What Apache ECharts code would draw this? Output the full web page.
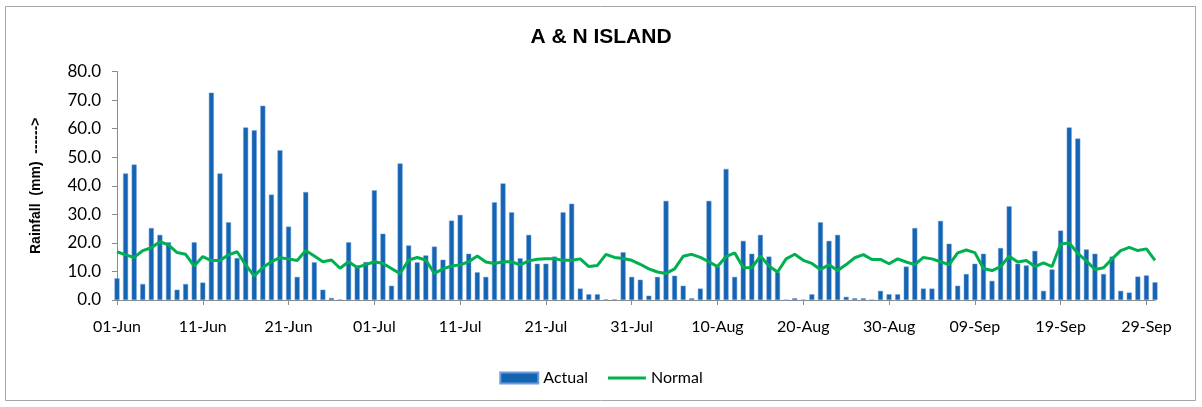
<!DOCTYPE html>
<html>
<head>
<meta charset="utf-8">
<script src="https://cdn.jsdelivr.net/npm/echarts@6/dist/echarts.min.js"></script>
<style>
  html, body { margin: 0; padding: 0; background: #fff; }
  #chart { width: 1202px; height: 407px; }
</style>
</head>
<body>
<div id="chart"></div>
<script>
// months covered, with day counts (01-Jun .. 30-Sep)
const months = ['Jun', 'Jul', 'Aug', 'Sep']
const monthDays = [30, 31, 31, 30]

// daily actual rainfall (mm)
const actual = [
  7.6, 44.3, 47.4, 5.6, 25.2, 22.8, 20.2, 3.6, 5.6, 20.2,
  6.1, 72.6, 44.3, 27.2, 14.7, 60.4, 59.4, 68.0, 36.9, 52.4,
  25.7, 8.1, 37.8, 13.2, 3.6, 0.7, 0.1, 20.2, 12.1, 13.3,
  38.4, 23.2, 5.0, 47.8, 19.1, 13.2, 15.6, 18.7, 14.1, 27.8,
  29.8, 16.2, 9.7, 8.1, 34.2, 40.8, 30.7, 14.6, 22.8, 12.7,
  12.7, 15.2, 30.7, 33.7, 4.0, 2.0, 2.0, 0.2, 0.2, 16.7,
  8.1, 7.1, 1.5, 8.1, 34.7, 8.5, 5.0, 0.6, 4.0, 34.7,
  11.7, 45.9, 8.1, 20.7, 16.2, 22.8, 15.2, 9.7, 0, 0.6,
  0, 2.0, 27.2, 20.7, 22.8, 1.1, 0.6, 0.6, 0, 3.2,
  2.0, 2.0, 11.7, 25.2, 4.0, 4.0, 27.7, 19.7, 5.0, 9.1,
  12.7, 16.2, 6.7, 18.2, 32.8, 12.7, 12.1, 17.2, 3.2, 10.7,
  24.3, 60.4, 56.5, 17.7, 16.2, 9.1, 15.2, 3.2, 2.6, 8.2,
  8.6, 6.2
]

// daily normal rainfall (mm)
const normal = [
  16.9, 15.8, 14.9, 17.3, 18.3, 20.4, 19.3, 16.6, 16.0, 11.9,
  15.2, 13.8, 13.8, 15.8, 16.9, 12.3, 8.4, 11.4, 13.4, 14.8,
  14.4, 13.8, 17.3, 15.4, 13.4, 14.0, 11.1, 13.4, 11.4, 12.4,
  13.4, 12.8, 11.0, 9.3, 14.0, 14.9, 14.0, 9.3, 10.9, 11.9,
  12.3, 13.4, 15.4, 13.3, 12.8, 13.4, 13.4, 12.3, 13.7, 14.3,
  14.4, 14.4, 13.9, 13.9, 14.4, 11.7, 12.1, 16.0, 14.9, 14.5,
  13.9, 12.5, 10.9, 9.8, 9.3, 10.9, 15.3, 16.0, 14.9, 13.4,
  11.7, 15.2, 16.5, 11.4, 11.3, 15.4, 11.9, 9.8, 14.4, 16.0,
  13.9, 12.8, 10.7, 12.3, 10.3, 12.4, 14.8, 15.9, 14.2, 14.2,
  12.7, 14.4, 13.3, 12.4, 14.9, 14.4, 13.4, 12.4, 16.5, 17.5,
  16.6, 11.0, 10.3, 11.7, 15.3, 13.3, 13.8, 11.7, 13.0, 11.7,
  19.6, 20.0, 16.3, 13.7, 10.7, 11.3, 14.4, 17.3, 18.4, 17.3,
  17.9, 13.9
]

const dates = []
months.forEach((m, k) => {
  for (let d = 1; d <= monthDays[k]; d++) dates.push(String(d).padStart(2, '0') + '-' + m)
})

const chart = echarts.init(document.getElementById('chart'))
const tickFont = 'Lato, "Open Sans", sans-serif'
const boldFont = '"Liberation Sans", Arial, sans-serif'

chart.setOption({
  animation: false,
  graphic: [{
    type: 'rect',
    shape: {x: 5.5, y: 6.5, width: 1190, height: 394},
    style: {fill: 'none', stroke: '#a6a6a6', lineWidth: 1},
    silent: true
  }],
  title: {
    text: 'A & N ISLAND',
    left: 'center',
    top: 22,
    textStyle: {fontFamily: boldFont, fontSize: 21, fontWeight: 'bold', color: '#000'}
  },
  legend: {
    bottom: 16,
    left: 'center',
    itemGap: 20,
    textStyle: {fontFamily: tickFont, fontSize: 16, color: '#000'},
    data: [
      {name: 'Actual', icon: 'rect', itemStyle: {color: '#1464b4'}},
      {name: 'Normal', icon: 'path://M0,0 L40,0 L40,3 L0,3 Z', itemStyle: {color: '#00b050'}}
    ],
    itemWidth: 38,
    itemHeight: 11,
    selectedMode: false
  },
  grid: {left: 117, right: 47, top: 71.5, bottom: 107},
  xAxis: {
    type: 'category',
    data: dates,
    boundaryGap: false,
    axisLine: {lineStyle: {color: '#8c8c8c', width: 1}},
    axisTick: {show: true, interval: 9, length: 5, lineStyle: {color: '#8c8c8c'}},
    axisLabel: {interval: 9, margin: 19, fontFamily: tickFont, fontSize: 16, color: '#000'},
    splitLine: {show: false}
  },
  yAxis: {
    type: 'value',
    min: 0,
    max: 80,
    interval: 10,
    name: 'Rainfall  (mm)  ------>',
    nameLocation: 'middle',
    nameGap: 74,
    nameRotate: 90,
    nameTextStyle: {fontFamily: boldFont, fontSize: 14, fontWeight: 'bold', color: '#000'},
    axisLine: {show: true, lineStyle: {color: '#8c8c8c', width: 1}},
    axisTick: {show: true, length: 5, lineStyle: {color: '#8c8c8c'}},
    axisLabel: {margin: 16, fontFamily: tickFont, fontSize: 17, color: '#000', formatter: v => v.toFixed(1)},
    splitLine: {show: false}
  },
  series: [
    {
      name: 'Actual',
      type: 'bar',
      data: actual,
      barWidth: 5,
      clip: true,
      itemStyle: {color: '#1464b4', borderColor: '#6d9bd6', borderWidth: 0.5}
    },
    {
      name: 'Normal',
      type: 'line',
      data: normal,
      symbol: 'none',
      lineStyle: {color: '#00b050', width: 3},
      itemStyle: {color: '#00b050'}
    }
  ]
})
</script>
</body>
</html>
